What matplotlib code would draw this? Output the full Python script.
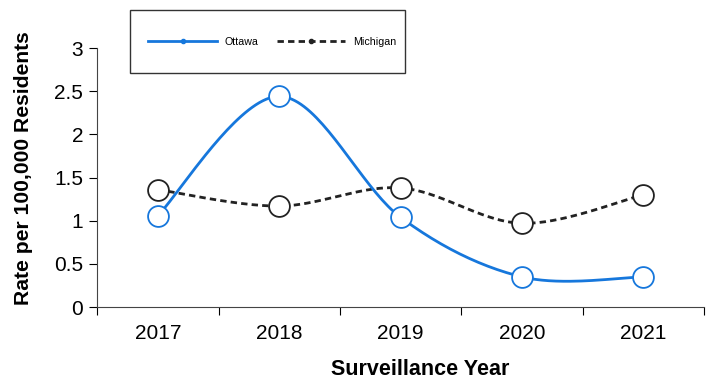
import matplotlib
matplotlib.use("Agg")
from matplotlib import pyplot as plt
from matplotlib.lines import Line2D
from matplotlib.patches import Rectangle
import numpy as np

plt.rcParams['font.family'] = ['Liberation Sans', 'DejaVu Sans']

years = ['2017', '2018', '2019', '2020', '2021']
ottawa = [1.06, 2.44, 1.04, 0.35, 0.35]
michigan = [1.36, 1.17, 1.38, 0.97, 1.30]

blue = '#1677dc'
dark = '#222222'
dash = (0, (2.3, 1.5))


def smooth(xs, ys, n=40):
    # catmull-rom curve through the points, like a spreadsheet "smoothed line"
    xs = np.asarray(xs, float)
    ys = np.asarray(ys, float)
    px = np.concatenate([[xs[0]], xs, [xs[-1]]])
    py = np.concatenate([[ys[0]], ys, [ys[-1]]])
    outx, outy = [], []
    for i in range(1, len(px) - 2):
        t = np.linspace(0, 1, n)
        for p, out in ((px, outx), (py, outy)):
            p0, p1, p2, p3 = p[i - 1], p[i], p[i + 1], p[i + 2]
            out.extend(0.5 * ((2 * p1) + (-p0 + p2) * t
                              + (2 * p0 - 5 * p1 + 4 * p2 - p3) * t ** 2
                              + (-p0 + 3 * p1 - 3 * p2 + p3) * t ** 3))
    return outx, outy


fig = plt.figure(figsize=(7.25, 3.81), dpi=100)
ax = fig.add_axes([0.134, 0.194, 0.837, 0.68])

x = np.arange(len(years))
sx, sy = smooth(x, michigan)
ax.plot(sx, sy, color=dark, lw=2, ls=dash, zorder=2)
ax.plot(x, michigan, ls='none', marker='o', ms=15, mfc='white', mec=dark, mew=1.3, zorder=3)
sx, sy = smooth(x, ottawa)
ax.plot(sx, sy, color=blue, lw=2, zorder=2)
ax.plot(x, ottawa, ls='none', marker='o', ms=15, mfc='white', mec=blue, mew=1.3, zorder=4)

ax.set_xlim(-0.5, len(years) - 0.5)
ax.set_ylim(0, 3)
ax.set_xticks(np.arange(-0.5, len(years), 1))
ax.set_xticklabels([])
ax.set_xticks(x, minor=True)
ax.set_xticklabels(years, minor=True)
ax.tick_params(axis='x', which='minor', length=0, pad=12, labelsize=15)
ax.tick_params(axis='x', which='major', length=6, direction='out')
ax.set_yticks([0, 0.5, 1, 1.5, 2, 2.5, 3])
ax.set_yticklabels(['0', '0.5', '1', '1.5', '2', '2.5', '3'])
ax.tick_params(axis='y', length=6, direction='out', labelsize=15, pad=4)
for s in ['top', 'right']:
    ax.spines[s].set_visible(False)
for s in ['left', 'bottom']:
    ax.spines[s].set_color('#444444')

ax.set_xlabel('Surveillance Year', fontsize=15.5, fontweight='bold', labelpad=12)
ax.xaxis.set_label_coords(0.532, -0.2)
ax.set_ylabel('Rate per 100,000 Residents', fontsize=15.2, fontweight='bold')
ax.yaxis.set_label_coords(-0.105, 0.538)

# legend box sits above the plot area
fig.patches.append(Rectangle((0.179, 0.808), 0.379, 0.165, transform=fig.transFigure,
                             fill=True, facecolor='white', edgecolor='#333333', lw=1, zorder=5))
handles = [
    Line2D([], [], color=blue, lw=2, marker='o', ms=3, markevery=[1]),
    Line2D([], [], color=dark, lw=2, ls=dash, marker='o', ms=3, markevery=[1]),
]
leg = fig.legend(handles, ['Ottawa', 'Michigan'], loc='center', ncol=2,
                 bbox_to_anchor=(0.376, 0.89), frameon=False,
                 fontsize=7.7, handlelength=6.4, columnspacing=1.7, handletextpad=0.75)
leg.set_zorder(6)

fig.savefig('out.png', dpi=100)
